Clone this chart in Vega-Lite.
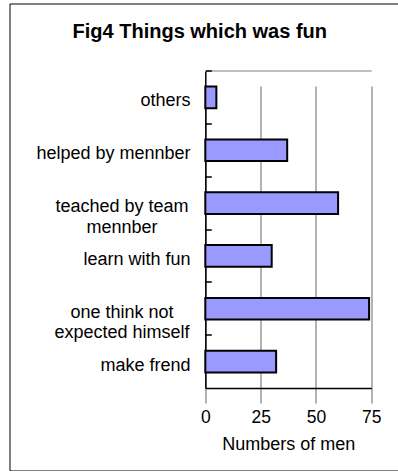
{
  "$schema": "https://vega.github.io/schema/vega-lite/v6.json",
  "autosize": {"type": "none"},
  "padding": {"left": 9.5, "top": 3.5, "right": 0, "bottom": 0},
  "width": 388.5,
  "height": 467,
  "background": "white",
  "title": {
    "text": "Fig4 Things which was fun",
    "font": "Liberation Sans",
    "fontSize": 20,
    "fontWeight": "bold",
    "color": "black",
    "anchor": "middle",
    "frame": "group",
    "baseline": "alphabetic",
    "offset": -54,
    "dx": -4
  },
  "data": {
    "values": [
      {"item": "others", "men": 5},
      {"item": "helped by mennber", "men": 37},
      {"item": "teached by team mennber", "men": 60},
      {"item": "learn with fun", "men": 30},
      {"item": "one think not expected himself", "men": 74},
      {"item": "make frend", "men": 32}
    ]
  },
  "mark": {"type": "bar", "fill": "#9999FF", "stroke": "black", "strokeWidth": 2, "height": {"band": 0.41}},
  "encoding": {
    "y": {
      "field": "item",
      "type": "nominal",
      "sort": null,
      "scale": {"range": [67.5, 384.5], "paddingInner": 0, "paddingOuter": 0},
      "axis": {
        "title": null,
        "offset": -195.8,
        "bandPosition": 0,
        "domainColor": "black",
        "domainWidth": 1.5,
        "tickColor": "black",
        "tickWidth": 1.5,
        "tickSize": -6,
        "grid": true,
        "gridColor": "#808080",
        "gridWidth": 1.2,
        "gridOpacity": {"condition": {"test": "datum.value == 'others'", "value": 1}, "value": 0},
        "labelFont": "Liberation Sans",
        "labelFontSize": 18,
        "labelColor": "black",
        "labelLimit": 0,
        "labelLineHeight": 20.5,
        "labelBaseline": "middle",
        "labelOffset": 4,
        "labelExpr": "datum.value == 'teached by team mennber' ? ['teached by team', 'mennber'] : datum.value == 'one think not expected himself' ? ['one think not', 'expected himself'] : datum.value",
        "labelAlign": {"condition": {"test": "datum.value == 'teached by team mennber' || datum.value == 'one think not expected himself'", "value": "center"}, "value": "right"},
        "labelPadding": {"condition": {"test": "datum.value == 'teached by team mennber' || datum.value == 'one think not expected himself'", "value": 89.8}, "value": 21.3}
      }
    },
    "x": {
      "field": "men",
      "type": "quantitative",
      "scale": {"domain": [0, 75], "nice": false, "zero": true, "range": [195.8, 361.8]},
      "axis": {
        "title": "Numbers of men",
        "offset": -82.5,
        "values": [0, 25, 50, 75],
        "ticks": false,
        "domainColor": "black",
        "domainWidth": 1.5,
        "grid": true,
        "gridColor": "#808080",
        "gridWidth": 1.2,
        "labelFont": "Liberation Sans",
        "labelFontSize": 17.5,
        "labelColor": "black",
        "labelPadding": 20,
        "labelFlush": false,
        "titleFont": "Liberation Sans",
        "titleFontSize": 18,
        "titleFontWeight": "normal",
        "titleColor": "black",
        "titlePadding": 10
      }
    }
  },
  "config": {
    "view": {
      "stroke": "black",
      "strokeWidth": 1,
      "strokeDash": [388.5, 467, 855.5]
    }
  }
}
